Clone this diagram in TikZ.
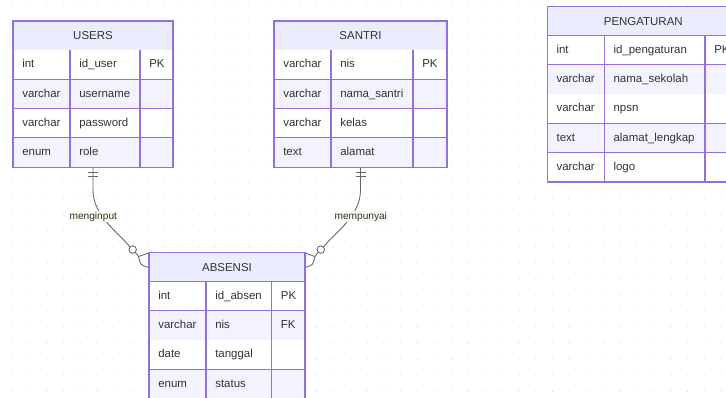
\documentclass[tikz,border=0pt]{standalone}
\usepackage{fontspec}
\setmainfont{Liberation Sans}
\usetikzlibrary{fit}
\definecolor{erline}{HTML}{9370DB}
\definecolor{erhead}{HTML}{ECECFF}
\definecolor{erodd}{HTML}{FFFFFF}
\definecolor{ereven}{HTML}{F3F3FF}
\definecolor{ertext}{HTML}{333333}
\definecolor{edgecol}{HTML}{666666}
\definecolor{griddot}{HTML}{E4E4E4}
\definecolor{labelbg}{HTML}{FAFAEE}
\tikzset{
  celltxt/.style={text=ertext, font=\fontsize{8.6}{10}\selectfont, inner sep=0pt, anchor=west, text height=6.2pt, text depth=1.8pt},
  hdrtxt/.style={text=ertext, font=\fontsize{8.6}{10}\selectfont, inner sep=0pt, anchor=center},
  tblline/.style={draw=erline, line width=1.1pt},
  tblborder/.style={draw=erline, line width=1.1pt, inner sep=0pt},
  rel/.style={draw=edgecol, line width=0.65pt},
  rellabel/.style={font=\fontsize{7.6}{9}\selectfont, text=ertext, fill=labelbg, inner sep=0.8pt},
}
\newcommand\setTable[6]{\def\TN{#1}\def\XA{#2}\def\XB{#3}\def\XC{#4}\def\XD{#5}\def\YT{#6}}
\def\RH{29.25}
\newcommand\erhead[1]{%
  \pgfmathsetmacro\ya{\YT}\pgfmathsetmacro\yb{\YT+\RH}%
  \pgfmathsetmacro\xm{(\XA+\XD)/2}\pgfmathsetmacro\ym{(\ya+\yb)/2}%
  \fill[erhead] (\XA,\ya) rectangle (\XD,\yb);
  \draw[tblline] (\XA,\yb) -- (\XD,\yb);
  \node[hdrtxt] (\TN-title) at (\xm,\ym) {#1};
}
\newcommand\errow[5]{%
  \pgfmathsetmacro\ya{\YT+#1*\RH}\pgfmathsetmacro\yb{\YT+(#1+1)*\RH}%
  \pgfmathsetmacro\ym{(\ya+\yb)/2}%
  \fill[#2] (\XA,\ya) rectangle (\XD,\yb);
  \draw[tblline] (\XB,\ya) -- (\XB,\yb) (\XC,\ya) -- (\XC,\yb) (\XA,\yb) -- (\XD,\yb);
  \node[celltxt] (\TN-#1-t) at (\XA+9,\ym) {#3};
  \node[celltxt] (\TN-#1-n) at (\XB+9,\ym) {#4};
  \node[celltxt] (\TN-#1-k) at (\XC+9,\ym) {#5};
}
\newcommand\erframe[1]{%
  \pgfmathsetmacro\yb{\YT+(#1+1)*\RH}%
  \node[tblborder, fit={(\XA,\YT) (\XD,\yb)}] (\TN) {};
}
\begin{document}
\begin{tikzpicture}[x=0.75pt,y=-0.75pt]
\useasboundingbox (0,0) rectangle (726,397);
\clip (0,0) rectangle (726,397);
\fill[white] (0,0) rectangle (726,397);
% dot grid
\foreach \i in {0,...,43} {
  \foreach \j in {0,...,24} {
    \fill[griddot] ({12.7+\i*16.87},{5.4+\j*16.07}) circle (0.55pt);
  }
}
% USERS
\setTable{users}{13}{70}{140}{173}{21}
\erhead{USERS}
\errow{1}{erodd}{int}{id\_user}{PK}
\errow{2}{ereven}{varchar}{username}{}
\errow{3}{erodd}{varchar}{password}{}
\errow{4}{ereven}{enum}{role}{}
\erframe{4}
% SANTRI
\setTable{santri}{274}{331}{413}{447}{21}
\erhead{SANTRI}
\errow{1}{erodd}{varchar}{nis}{PK}
\errow{2}{ereven}{varchar}{nama\_santri}{}
\errow{3}{erodd}{varchar}{kelas}{}
\errow{4}{ereven}{text}{alamat}{}
\erframe{4}
% PENGATURAN
\setTable{peng}{547.3}{604.3}{705}{739.3}{6.5}
\erhead{PENGATURAN}
\errow{1}{erodd}{int}{id\_pengaturan}{PK}
\errow{2}{ereven}{varchar}{nama\_sekolah}{}
\errow{3}{erodd}{varchar}{npsn}{}
\errow{4}{ereven}{text}{alamat\_lengkap}{}
\errow{5}{erodd}{varchar}{logo}{}
\erframe{5}
% ABSENSI
\setTable{absensi}{149}{206}{271.7}{305}{252.5}
\erhead{ABSENSI}
\errow{1}{erodd}{int}{id\_absen}{PK}
\errow{2}{ereven}{varchar}{nis}{FK}
\errow{3}{erodd}{date}{tanggal}{}
\errow{4}{ereven}{enum}{status}{}
\erframe{4}
% relation coordinates
\coordinate (lc) at (132.7,249.6);
\coordinate (lp) at (138.5,256.5);
\coordinate (rc) at (320.8,249.6);
\coordinate (rp) at (315,256.5);
% USERS -> ABSENSI
\draw[rel] (users.south) -- ++(0,22) .. controls +(0,26) and (118,232) .. ([shift={(-2.6,-2.6)}]lc);
\draw[rel] (lc) circle (2.8pt);
\draw[rel] ([shift={(2.6,2.6)}]lc) -- (lp);
\draw[rel] (lp) .. controls (143,254) .. ([shift={(0,1.5)}]absensi.north west);
\draw[rel] (lp) .. controls (140.5,265) .. ([shift={(0,15.5)}]absensi.north west);
\draw[rel] (users.south) ++(-5,4) -- ++(10,0);
\draw[rel] (users.south) ++(-5,8) -- ++(10,0);
% SANTRI -> ABSENSI
\draw[rel] (santri.south) -- ++(0,22) .. controls +(0,26) and (335.5,232) .. ([shift={(2.6,-2.6)}]rc);
\draw[rel] (rc) circle (2.8pt);
\draw[rel] ([shift={(-2.6,2.6)}]rc) -- (rp);
\draw[rel] (rp) .. controls (310.5,254) .. ([shift={(0,1.5)}]absensi.north east);
\draw[rel] (rp) .. controls (313,265) .. ([shift={(0,15.5)}]absensi.north east);
\draw[rel] (santri.south) ++(-5,4) -- ++(10,0);
\draw[rel] (santri.south) ++(-5,8) -- ++(10,0);
% labels
\node[rellabel] (lblA) at (93.3,216.5) {menginput};
\node[rellabel] (lblB) at (360.8,216.5) {mempunyai};
\end{tikzpicture}
\end{document}
